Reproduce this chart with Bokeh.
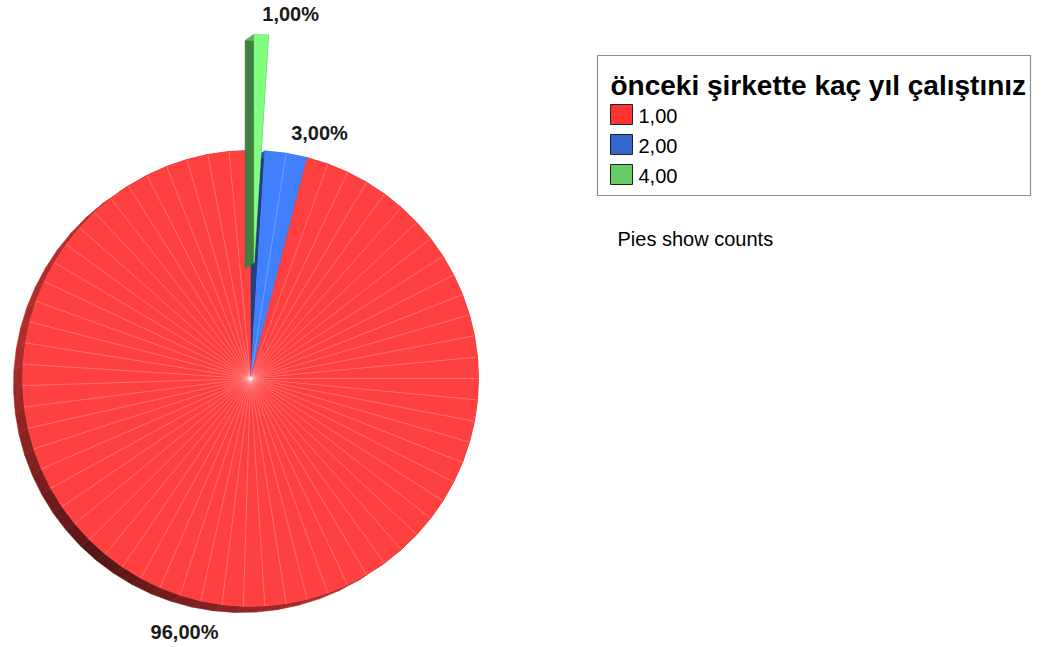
import math
import numpy as np
from bokeh.plotting import figure
from bokeh.models import Range1d
from bokeh.core.properties import value
from bokeh.embed import file_html
from bokeh.resources import INLINE

# ---------------- data ----------------
categories = ["1,00", "2,00", "4,00"]
percents = [96.0, 3.0, 1.0]
legend_colors = ["#ff3333", "#3366cc", "#66cc66"]
face_colors = ["#ff4040", "#4080ff", "#80ff80"]
side_rgb = [(255, 64, 64), (64, 128, 255), (128, 255, 128)]
pie_order = [2, 1, 0]          # clockwise from 12 o'clock
exploded = [False, False, True]
legend_title = "önceki şirkette kaç yıl çalıştınız"
note_text = "Pies show counts"

# ---------------- layout ----------------
W, H = 1052, 647
CX, CY, R = 250, 378, 228
EXPLODE = 116
OFF = (-9, 6)
FACET = 5.4
FONT = value("Liberation Sans")

p = figure(width=W, height=H, x_range=Range1d(0, W), y_range=Range1d(H, 0),
           output_backend="svg", toolbar_location=None,
           x_axis_type=None, y_axis_type=None, min_border=0)
p.grid.visible = False
p.outline_line_color = None
p.background_fill_color = "white"


def pt(cx, cy, r, deg):
    t = math.radians(deg)
    return cx + r * math.sin(t), cy - r * math.cos(t)


def shade(deg):
    d = abs(((deg - 220) + 180) % 360 - 180)
    g = min(d / 60.0, 1.0)
    return 0.33 + (0.70 - 0.33) * g


def hexc(rgb, f):
    return "#%02x%02x%02x" % tuple(max(0, min(255, int(c * f))) for c in rgb)


slices = []
start = 0.0
for idx in pie_order:
    span = percents[idx] / 100.0 * 360.0
    a0, a1 = start, start + span
    mid = (a0 + a1) / 2
    if exploded[idx]:
        cx, cy = pt(CX, CY, EXPLODE, mid)
    else:
        cx, cy = CX, CY
    n = max(1, math.ceil(span / FACET - 1e-9))
    slices.append(dict(idx=idx, a0=a0, a1=a1, mid=mid, cx=cx, cy=cy,
                       angles=np.linspace(a0, a1, n + 1)))
    start = a1


def draw_slice(s):
    idx, cx, cy, angles = s["idx"], s["cx"], s["cy"], s["angles"]
    rgb = side_rgb[idx]
    xs, ys, cols = [], [], []
    for a in (s["a0"], s["a1"]):
        ox, oy = pt(cx, cy, R, a)
        xs.append([cx, ox, ox + OFF[0], cx + OFF[0]])
        ys.append([cy, oy, oy + OFF[1], cy + OFF[1]])
        cols.append(hexc(rgb, 0.5))
    for t0, t1 in zip(angles[:-1], angles[1:]):
        x0, y0 = pt(cx, cy, R, t0)
        x1, y1 = pt(cx, cy, R, t1)
        xs.append([x0, x1, x1 + OFF[0], x0 + OFF[0]])
        ys.append([y0, y1, y1 + OFF[1], y0 + OFF[1]])
        cols.append(hexc(rgb, shade((t0 + t1) / 2)))
    p.patches(xs, ys, fill_color=cols, line_color=cols, line_width=0.6)


def draw_face(s):
    idx, cx, cy, angles = s["idx"], s["cx"], s["cy"], s["angles"]
    fx = [cx] + [pt(cx, cy, R, a)[0] for a in angles]
    fy = [cy] + [pt(cx, cy, R, a)[1] for a in angles]
    p.patch(fx, fy, fill_color=face_colors[idx], line_color=face_colors[idx], line_width=0.5)
    inner = angles[1:-1]
    if len(inner):
        lx = [[cx, pt(cx, cy, R, a)[0]] for a in inner]
        ly = [[cy, pt(cx, cy, R, a)[1]] for a in inner]
        p.multi_line(lx, ly, line_color="#ffffff", line_alpha=0.3, line_width=0.8)


flat = [s for s in slices if not exploded[s["idx"]]]
pulled = [s for s in slices if exploded[s["idx"]]]
for s in flat:
    draw_slice(s)
for s in flat:
    draw_face(s)
for s in pulled:
    draw_slice(s)
    draw_face(s)

# labels
for s in slices:
    idx = s["idx"]
    t = math.radians(s["mid"])
    top_half = math.cos(t) > 0
    lx, ly = pt(s["cx"], s["cy"], R + (32 if top_half else 28), s["mid"])
    align = "left" if math.sin(t) >= 0 else "right"
    base = "top" if top_half else "middle"
    label = ("%.2f" % percents[idx]).replace(".", ",") + "%"
    p.text(x=[lx], y=[ly], text=[label], text_font=FONT, text_font_style="bold",
           text_font_size="20px", text_color="#1a1a1a", text_align=align, text_baseline=base)

# legend
p.quad(left=[597], right=[1030], top=[55], bottom=[195], fill_color="white",
       line_color="#8c8c8c", line_width=1.2)
p.text(x=[610], y=[85], text=[legend_title], text_font=FONT, text_font_style="bold",
       text_font_size="28px", text_color="black", text_baseline="middle")
rows = np.arange(len(categories))
p.quad(left=[610] * len(rows), right=[632] * len(rows),
       top=list(104 + rows * 30.0), bottom=list(124 + rows * 30.0),
       fill_color=legend_colors, line_color="#222222", line_width=1)
p.text(x=[638] * len(rows), y=list(115 + rows * 30.0), text=categories, text_font=FONT,
       text_font_size="20px", text_color="black", text_baseline="middle")

p.text(x=[617], y=[238], text=[note_text], text_font=FONT, text_font_size="20px",
       text_color="black", text_baseline="middle")

open("out.html", "w").write(file_html(p, INLINE))
